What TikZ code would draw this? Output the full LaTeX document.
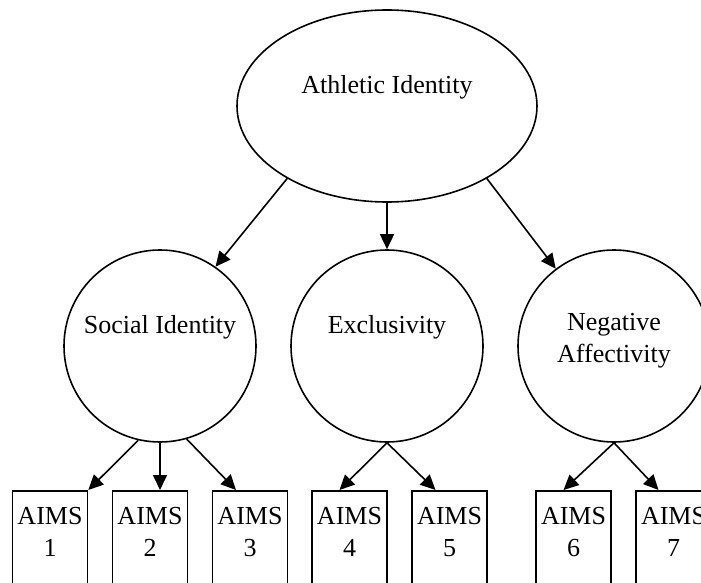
\documentclass[tikz,border=0pt]{standalone}
\usepackage{fontspec}
\setmainfont{Liberation Serif}
\usetikzlibrary{arrows.meta, shapes.geometric}

\begin{document}
\begin{tikzpicture}[x=0.5pt, y={(0pt,-0.5pt)}, line width=0.8pt,
    >={Triangle[length=7.5pt, width=7pt]},
    font=\fontsize{13}{16}\selectfont,
    factor/.style={draw, circle, minimum size=96pt, inner sep=0pt},
    heading/.style={inner sep=0pt, align=center, yshift=9.5pt},
    indicator/.style={draw, rectangle, anchor=north, minimum width=37.5pt,
      minimum height=80pt, inner sep=0pt}]
  \path[use as bounding box, clip] (0,0) rectangle (701,583);

  % higher-order factor
  \node[draw, ellipse, minimum width=150pt, minimum height=96pt, inner sep=0pt,
        label={[heading]center:Athletic Identity}] (athl) at (387,106) {};

  % first-order factors
  \node[factor, label={[heading]center:Social Identity}] (soc) at (160,346) {};
  \node[factor, label={[heading]center:Exclusivity}] (excl) at (387,346) {};
  \node[factor, label={[heading, yshift=-6.75pt]center:Negative\\Affectivity}] (neg) at (614,346) {};

  % items
  \foreach \i/\xpos in {1/50, 2/150, 3/250, 4/349.5, 5/449.5, 6/573.5, 7/673.5}
    \node[indicator, label={[anchor=north, yshift=-8pt, inner sep=0pt,
      align=center]north:AIMS\\\i}] (aims\i) at (\xpos,490) {};

  \draw[->] (athl.216) -- (soc.55);
  \draw[->] (athl.south) -- (excl.north);
  \draw[->] (athl.324) -- (neg.127);

  \draw[->] (soc.257) -- (aims1.north east);
  \draw[->] (soc.south) -- (soc.south |- aims2.north);
  \draw[->] (soc.286) -- ([xshift=-7pt]aims3.north);
  \draw[->] (excl.south) -- ([xshift=-5pt]aims4.north);
  \draw[->] (excl.south) -- ([xshift=-7pt]aims5.north);
  \draw[->] (neg.south) -- ([xshift=-5pt]aims6.north);
  \draw[->] (neg.south) -- ([xshift=-7.5pt]aims7.north);
\end{tikzpicture}
\end{document}
